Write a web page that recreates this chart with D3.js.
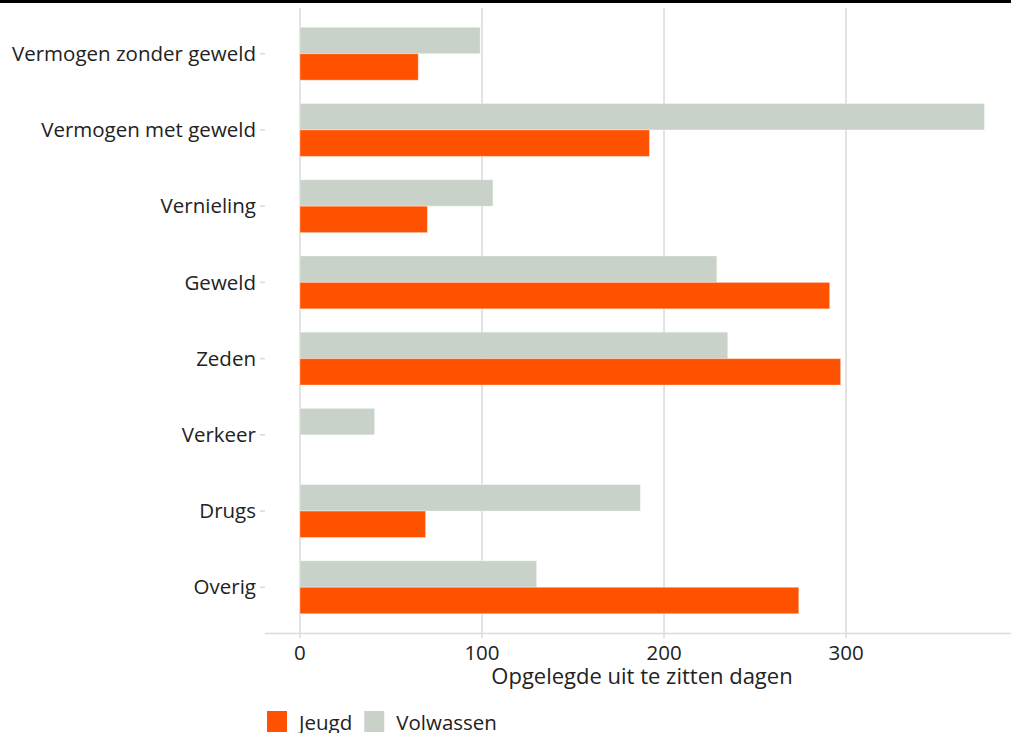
<!DOCTYPE html>
<html>
<head>
<meta charset="utf-8">
<script src="https://cdn.jsdelivr.net/npm/d3@7"></script>
<style>
  body { margin: 0; background: #fff; }
  svg { display: block; font-family: "Open Sans", sans-serif; }
</style>
</head>
<body>
<svg id="chart" width="1011" height="733"></svg>
<script>
const categories = ['Vermogen zonder geweld', 'Vermogen met geweld', 'Vernieling', 'Geweld', 'Zeden', 'Verkeer', 'Drugs', 'Overig'];
const volwassen = [99, 376, 106, 229, 235, 41, 187, 130];
const jeugd = [65, 192, 70, 291, 297, null, 69, 274];
const xTicks = [0, 100, 200, 300];
const series = ['Volwassen', 'Jeugd'];
const legendOrder = ['Jeugd', 'Volwassen'];
const colors = { Jeugd: '#ff5200', Volwassen: '#c8d2c8' };

const svg = d3.select('#chart');
const plot = { left: 265, right: 1011, top: 8, bottom: 633 };
const textColor = '#222';

// top rule
svg.append('rect').attr('x', 0).attr('y', 0).attr('width', 1011).attr('height', 3).attr('fill', '#000');

const x = d3.scaleLinear().domain([-19.2, 390.6]).range([plot.left, plot.right]);
const y = d3.scaleBand().domain(categories).range([plot.top, plot.bottom]).paddingInner(0.306).paddingOuter(0.253);
const sub = d3.scaleBand().domain(series).range([0, y.bandwidth()]);

// gridlines
svg.append('g')
    .selectAll('line')
    .data(xTicks)
    .join('line')
    .attr('x1', (d) => x(d))
    .attr('x2', (d) => x(d))
    .attr('y1', plot.top)
    .attr('y2', plot.bottom)
    .attr('stroke', '#dcdcdc')
    .attr('stroke-width', 1.6);

const rows = categories.map((c, i) => ({ c, Volwassen: volwassen[i], Jeugd: jeugd[i] }));

svg.append('g')
    .selectAll('g')
    .data(rows)
    .join('g')
    .attr('transform', (d) => `translate(0,${y(d.c)})`)
    .selectAll('rect')
    .data((d) => series.filter((s) => d[s] != null).map((s) => ({ s, v: d[s] })))
    .join('rect')
    .attr('x', x(0))
    .attr('y', (d) => sub(d.s))
    .attr('width', (d) => x(d.v) - x(0))
    .attr('height', sub.bandwidth())
    .attr('fill', (d) => colors[d.s])
    .attr('stroke', 'rgba(255,255,255,0.35)')
    .attr('stroke-width', 1);

// y axis labels and ticks
const yAxis = svg.append('g');
yAxis.selectAll('line')
    .data(categories)
    .join('line')
    .attr('x1', plot.left - 5)
    .attr('x2', plot.left)
    .attr('y1', (d) => y(d) + y.bandwidth() / 2)
    .attr('y2', (d) => y(d) + y.bandwidth() / 2)
    .attr('stroke', '#dcdcdc')
    .attr('stroke-width', 1.6);
yAxis.selectAll('text')
    .data(categories)
    .join('text')
    .attr('x', plot.left - 9)
    .attr('y', (d) => y(d) + y.bandwidth() / 2)
    .attr('dy', '0.35em')
    .attr('text-anchor', 'end')
    .attr('fill', textColor)
    .style('font-size', '20.5px')
    .text((d) => d);

// x axis
const xAxis = svg.append('g');
xAxis.append('line')
    .attr('x1', plot.left)
    .attr('x2', plot.right)
    .attr('y1', plot.bottom + 0.5)
    .attr('y2', plot.bottom + 0.5)
    .attr('stroke', '#dcdcdc')
    .attr('stroke-width', 1.6);
xAxis.selectAll('line.tick')
    .data(xTicks)
    .join('line')
    .attr('class', 'tick')
    .attr('x1', (d) => x(d))
    .attr('x2', (d) => x(d))
    .attr('y1', plot.bottom)
    .attr('y2', plot.bottom + 5)
    .attr('stroke', '#dcdcdc')
    .attr('stroke-width', 1.6);
xAxis.selectAll('text')
    .data(xTicks)
    .join('text')
    .attr('x', (d) => x(d))
    .attr('y', 660)
    .attr('text-anchor', 'middle')
    .attr('fill', textColor)
    .style('font-size', '20.5px')
    .text((d) => d);

svg.append('text')
    .attr('x', 642)
    .attr('y', 684)
    .attr('text-anchor', 'middle')
    .attr('fill', textColor)
    .style('font-size', '22px')
    .text('Opgelegde uit te zitten dagen');

// legend
const legend = svg.append('g').attr('transform', 'translate(267,711)');
let lx = 0;
legendOrder.forEach((s) => {
    legend.append('rect').attr('x', lx).attr('y', 0).attr('width', 20).attr('height', 21).attr('fill', colors[s]);
    const t = legend.append('text')
        .attr('x', lx + 32)
        .attr('y', 19)
        .attr('fill', textColor)
        .style('font-size', '20.5px')
        .text(s);
    lx += 32 + t.node().getComputedTextLength() + 12;
});
</script>
</body>
</html>
